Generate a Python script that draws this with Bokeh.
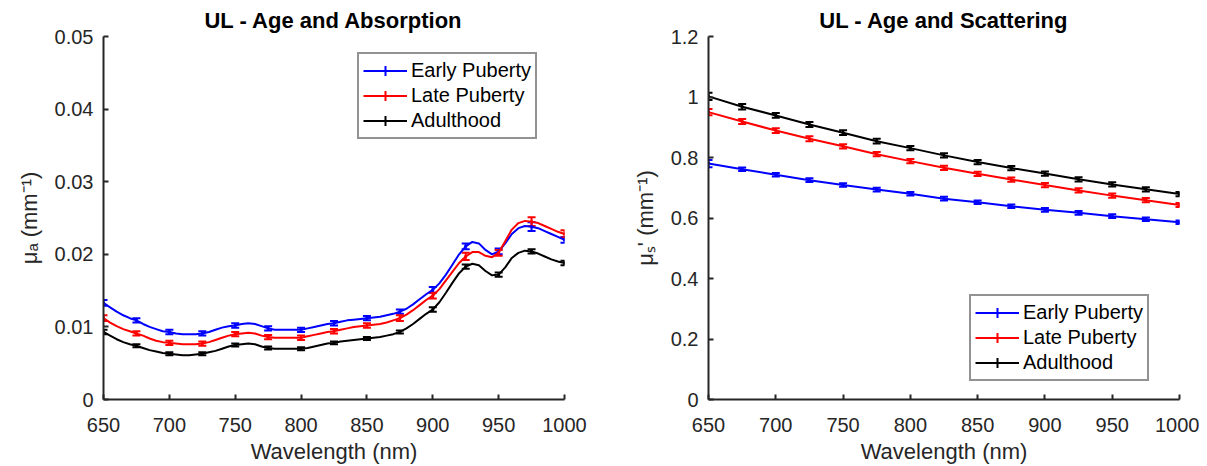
from bokeh.plotting import figure
from bokeh.models import (Range1d, FixedTicker, Whisker, TeeHead, ColumnDataSource,
                          Legend, LegendItem)
from bokeh.layouts import row
from bokeh.embed import file_html
from bokeh.resources import INLINE

# ---------------- data ----------------
series_names = ["Early Puberty", "Late Puberty", "Adulthood"]
series_colors = ["#0000FF", "#FF0000", "#000000"]

# dense absorption spectra (every 5 nm)
wl_curve = list(range(650, 1001, 5))
early_abs_curve = [
    .0133, .0127, .0121, .0116, .0112, .0109, .0104, .0100, .0097, .0094,
    .0093, .0091, .0090, .0090, .0090, .0091, .0093, .0096, .0099, .0101,
    .0102, .0104, .0105, .0104, .0101, .0098, .0096, .0096, .0096, .0096,
    .0096, .0098, .0100, .0102, .0104, .0105, .0107, .0109, .0110, .0111,
    .0112, .0113, .0114, .0116, .0118, .0121, .0125, .0131, .0138, .0145,
    .0151, .0160, .0172, .0186, .0200, .0211, .0217, .0215, .0206, .0200,
    .0204, .0215, .0228, .0236, .0239, .0238, .0236, .0232, .0228, .0224,
    .0220]
late_abs_curve = [
    .0112, .0106, .0101, .0097, .0094, .0091, .0088, .0084, .0081, .0079,
    .0078, .0077, .0076, .0076, .0076, .0077, .0079, .0082, .0085, .0088,
    .0090, .0091, .0092, .0091, .0088, .0086, .0085, .0085, .0085, .0085,
    .0085, .0087, .0089, .0091, .0093, .0094, .0096, .0098, .0100, .0101,
    .0102, .0103, .0104, .0106, .0109, .0112, .0117, .0123, .0130, .0137,
    .0143, .0152, .0164, .0176, .0188, .0197, .0203, .0203, .0198, .0196,
    .0202, .0218, .0234, .0243, .0246, .0245, .0243, .0239, .0235, .0231,
    .0228]
adult_abs_curve = [
    .0093, .0088, .0083, .0079, .0076, .0074, .0071, .0068, .0066, .0064,
    .0063, .0062, .0061, .0061, .0062, .0063, .0065, .0067, .0070, .0073,
    .0075, .0076, .0077, .0076, .0073, .0071, .0070, .0070, .0070, .0070,
    .0070, .0071, .0073, .0075, .0077, .0078, .0080, .0081, .0082, .0083,
    .0084, .0085, .0086, .0088, .0090, .0093, .0098, .0104, .0111, .0118,
    .0124, .0134, .0147, .0161, .0174, .0183, .0187, .0185, .0177, .0171,
    .0172, .0182, .0195, .0202, .0205, .0204, .0201, .0197, .0193, .0190,
    .0188]

# error-bar points (every 25 nm)
wl_pts = list(range(650, 1001, 25))
early_abs_mean = [.0133, .0109, .0093, .0091, .0102, .0098, .0096, .0105, .0112, .0121, .0151, .0211, .0204, .0238, .0220]
early_abs_err = [.0004, .0003, .0003, .0003, .0003, .0003, .0003, .0003, .0003, .0003, .0004, .0004, .0004, .0006, .0004]
late_abs_mean = [.0112, .0091, .0078, .0077, .0090, .0086, .0085, .0094, .0102, .0112, .0143, .0197, .0202, .0245, .0228]
late_abs_err = [.0004, .0003, .0003, .0003, .0003, .0003, .0003, .0003, .0003, .0004, .0004, .0005, .0004, .0006, .0005]
adult_abs_mean = [.0093, .0074, .0063, .0063, .0075, .0071, .0070, .0078, .0084, .0093, .0124, .0183, .0172, .0204, .0188]
adult_abs_err = [.0003, .0002, .0002, .0002, .0002, .0002, .0002, .0002, .0002, .0002, .0003, .0003, .0003, .0003, .0003]

early_sca_mean = [.780, .761, .743, .725, .709, .694, .680, .664, .652, .639, .627, .617, .606, .596, .586]
early_sca_err = [.012, .006, .006, .006, .006, .006, .006, .006, .006, .006, .006, .006, .006, .006, .006]
late_sca_mean = [.950, .919, .889, .862, .837, .811, .788, .766, .746, .727, .709, .691, .674, .659, .643]
late_sca_err = [.010, .008, .008, .008, .007, .007, .007, .007, .007, .007, .007, .007, .007, .007, .007]
adult_sca_mean = [1.002, .968, .939, .909, .882, .854, .831, .807, .785, .765, .747, .728, .711, .695, .679]
adult_sca_err = [.012, .009, .008, .008, .008, .008, .007, .007, .007, .007, .007, .007, .007, .007, .007]

x_ticks = [650, 700, 750, 800, 850, 900, 950, 1000]
abs_ticks = [0, 0.01, 0.02, 0.03, 0.04, 0.05]
abs_tick_labels = ["0", "0.01", "0.02", "0.03", "0.04", "0.05"]
sca_ticks = [0, 0.2, 0.4, 0.6, 0.8, 1.0, 1.2]
sca_tick_labels = ["0", "0.2", "0.4", "0.6", "0.8", "1", "1.2"]

FONT = "Liberation Sans"
AX = "#262626"


def style(p, yticks, ylabels, ylab):
    p.xaxis.ticker = FixedTicker(ticks=x_ticks)
    p.yaxis.ticker = FixedTicker(ticks=yticks)
    p.yaxis.major_label_overrides = {t: l for t, l in zip(yticks, ylabels)}
    p.xaxis.axis_label = "Wavelength (nm)"
    p.yaxis.axis_label = ylab
    for ax in (p.xaxis[0], p.yaxis[0]):
        ax.axis_line_color = AX
        ax.axis_line_width = 2
        ax.major_tick_line_color = AX
        ax.major_tick_line_width = 2
        ax.major_tick_in = 5
        ax.major_tick_out = 0
        ax.minor_tick_line_color = None
        ax.major_label_text_font = FONT
        ax.major_label_text_font_size = "20px"
        ax.major_label_text_color = AX
        ax.axis_label_text_font = FONT
        ax.axis_label_text_font_size = "22px"
        ax.axis_label_text_font_style = "normal"
        ax.axis_label_text_color = AX
    p.xaxis.major_label_standoff = 18
    p.xaxis.axis_label_standoff = 4
    p.yaxis.major_label_standoff = 10
    p.yaxis.axis_label_standoff = 10
    p.xgrid.grid_line_color = None
    p.ygrid.grid_line_color = None
    p.outline_line_color = None
    p.title.text_font = FONT
    p.title.text_font_size = "22px"
    p.title.text_font_style = "bold"
    p.title.text_color = "#000000"
    p.title.align = "center"
    p.title.standoff = 7


def make(title, ymax, ylab, yticks, ylabels, curves_x, curves, means, errs,
         legend_loc, width, bl, br):
    p = figure(width=width, height=466, title=title, output_backend="svg",
               toolbar_location=None, x_range=Range1d(650, 1000),
               y_range=Range1d(0, ymax), min_border_left=bl,
               min_border_right=br, min_border_top=36, min_border_bottom=67)
    style(p, yticks, ylabels, ylab)
    items = []
    for name, color, cy, m, e in zip(series_names, series_colors, curves, means, errs):
        src = ColumnDataSource(dict(x=wl_pts, m=m,
                                    lo=[a - b for a, b in zip(m, e)],
                                    hi=[a + b for a, b in zip(m, e)]))
        ln = p.line(curves_x, cy, line_color=color, line_width=2)
        w = Whisker(base="x", upper="hi", lower="lo", source=src, dimension="height",
                    line_color=color, line_width=2,
                    upper_head=TeeHead(size=8, line_color=color, line_width=2),
                    lower_head=TeeHead(size=8, line_color=color, line_width=2))
        p.add_layout(w)
        mk = p.scatter("x", "m", source=src, marker="cross", size=3,
                       line_color=color, line_width=2)
        items.append(LegendItem(label=name, renderers=[ln, mk]))
    leg = Legend(items=items, location=legend_loc, orientation="vertical",
                 label_text_font=FONT, label_text_font_size="20px",
                 label_text_color="#000000", border_line_color=AX,
                 border_line_width=2, background_fill_color="white",
                 background_fill_alpha=1, padding=4, spacing=0,
                 glyph_width=44, glyph_height=25, label_height=25,
                 label_standoff=4, margin=0)
    p.add_layout(leg, "center")
    return p


p1 = make("UL - Age and Absorption", 0.05, "μₐ (mm⁻¹)", abs_ticks, abs_tick_labels,
          wl_curve, [early_abs_curve, late_abs_curve, adult_abs_curve],
          [early_abs_mean, late_abs_mean, adult_abs_mean],
          [early_abs_err, late_abs_err, adult_abs_err],
          (254, 260), 604, 103, 40)
p2 = make("UL - Age and Scattering", 1.2, "μₛ' (mm⁻¹)", sca_ticks, sca_tick_labels,
          wl_pts, [early_sca_mean, late_sca_mean, adult_sca_mean],
          [early_sca_mean, late_sca_mean, adult_sca_mean],
          [early_sca_err, late_sca_err, adult_sca_err],
          (261, 18), 595, 104, 20)

layout = row(p1, p2)
open("out.html", "w").write(file_html(layout, INLINE))
